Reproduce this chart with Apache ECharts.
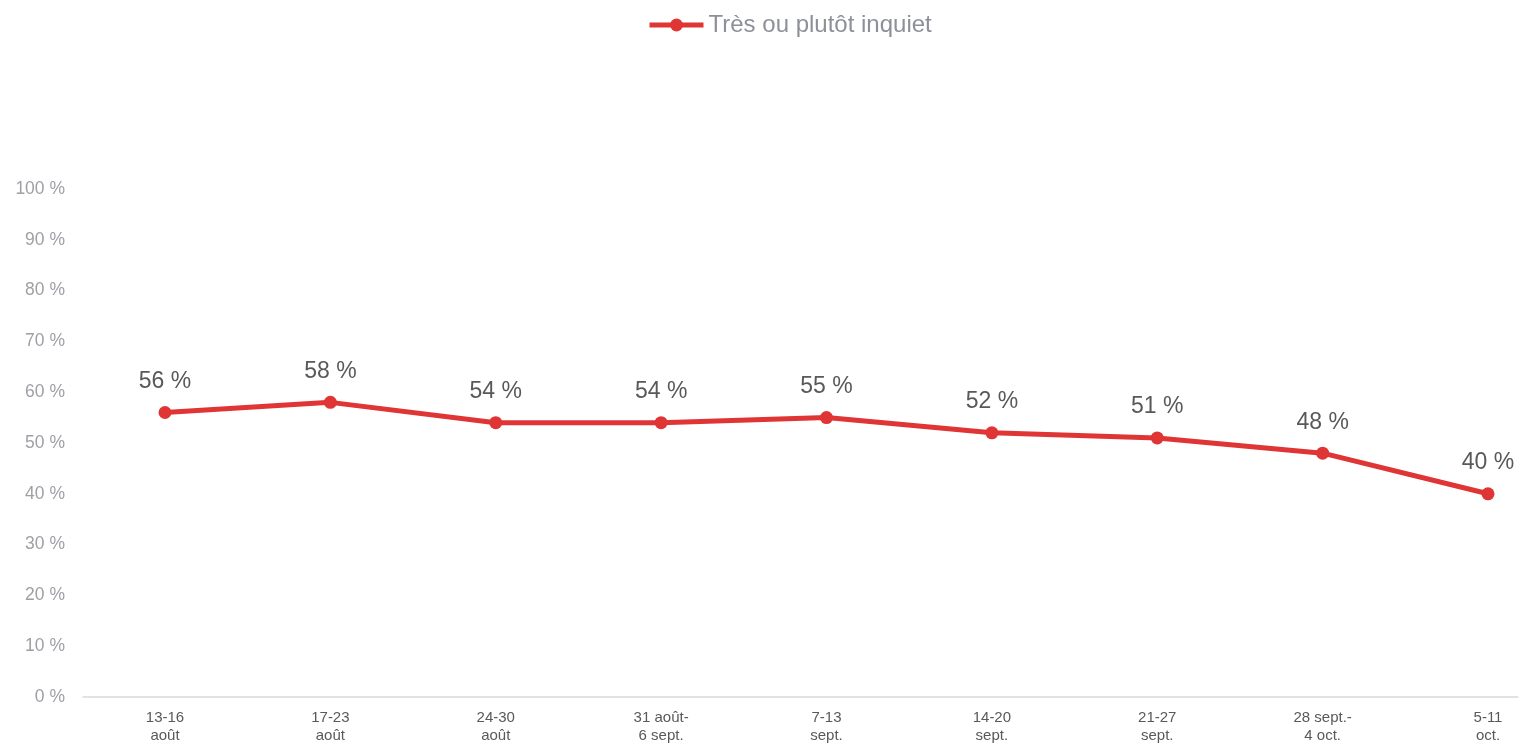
<!DOCTYPE html>
<html><head><meta charset="utf-8">
<script src="https://cdn.jsdelivr.net/npm/echarts@6/dist/echarts.min.js"></script>
<style>html,body{margin:0;padding:0;background:#fff}#c{width:1520px;height:745px}</style>
</head><body><div id="c"></div>
<script>
const categories = ["13-16\naoût","17-23\naoût","24-30\naoût","31 août-\n6 sept.","7-13\nsept.","14-20\nsept.","21-27\nsept.","28 sept.-\n4 oct.","5-11\noct."];
const seriesName = "Très ou plutôt inquiet";
const values = [56,58,54,54,55,52,51,48,40];
const yTicks = {min:0,max:100,interval:10};

const chart = echarts.init(document.getElementById('c'));
const font = 'Liberation Sans, Arial, sans-serif';
chart.setOption({
  animation:false,
  legend:{data:[seriesName],left:642,top:8,itemWidth:54,itemHeight:16,
    lineStyle:{width:5},
    textStyle:{fontFamily:font,fontSize:24,color:'#8e9099'}},
  grid:[
    {left:83,right:2,top:189,bottom:48},
    {left:165,right:32,top:189,bottom:48}
  ],
  xAxis:[
    {type:'category',gridIndex:0,data:[''],axisLine:{lineStyle:{color:'#d9d9d9',width:1.5}},axisTick:{show:false},axisLabel:{show:false}},
    {type:'category',gridIndex:1,data:categories,boundaryGap:false,axisLine:{show:false},axisTick:{show:false},
      axisLabel:{fontFamily:font,fontSize:15,color:'#595959',lineHeight:18,margin:12,interval:0}}
  ],
  yAxis:[
    {type:'value',gridIndex:0,min:yTicks.min,max:yTicks.max,interval:yTicks.interval,splitLine:{show:false},
      axisLine:{show:false},axisTick:{show:false},
      axisLabel:{formatter:'{value} %',fontFamily:font,fontSize:17.5,color:'#9fa0a6',margin:18}},
    {type:'value',gridIndex:1,min:yTicks.min,max:yTicks.max,interval:yTicks.interval,show:false}
  ],
  series:[{name:seriesName,type:'line',xAxisIndex:1,yAxisIndex:1,data:values,
    symbol:'circle',symbolSize:13,
    lineStyle:{color:'#e03535',width:5},itemStyle:{color:'#e03535'},
    label:{show:true,position:'top',distance:13,formatter:'{c} %',fontFamily:font,fontSize:23,color:'#595959'}
  }]
});
</script></body></html>
